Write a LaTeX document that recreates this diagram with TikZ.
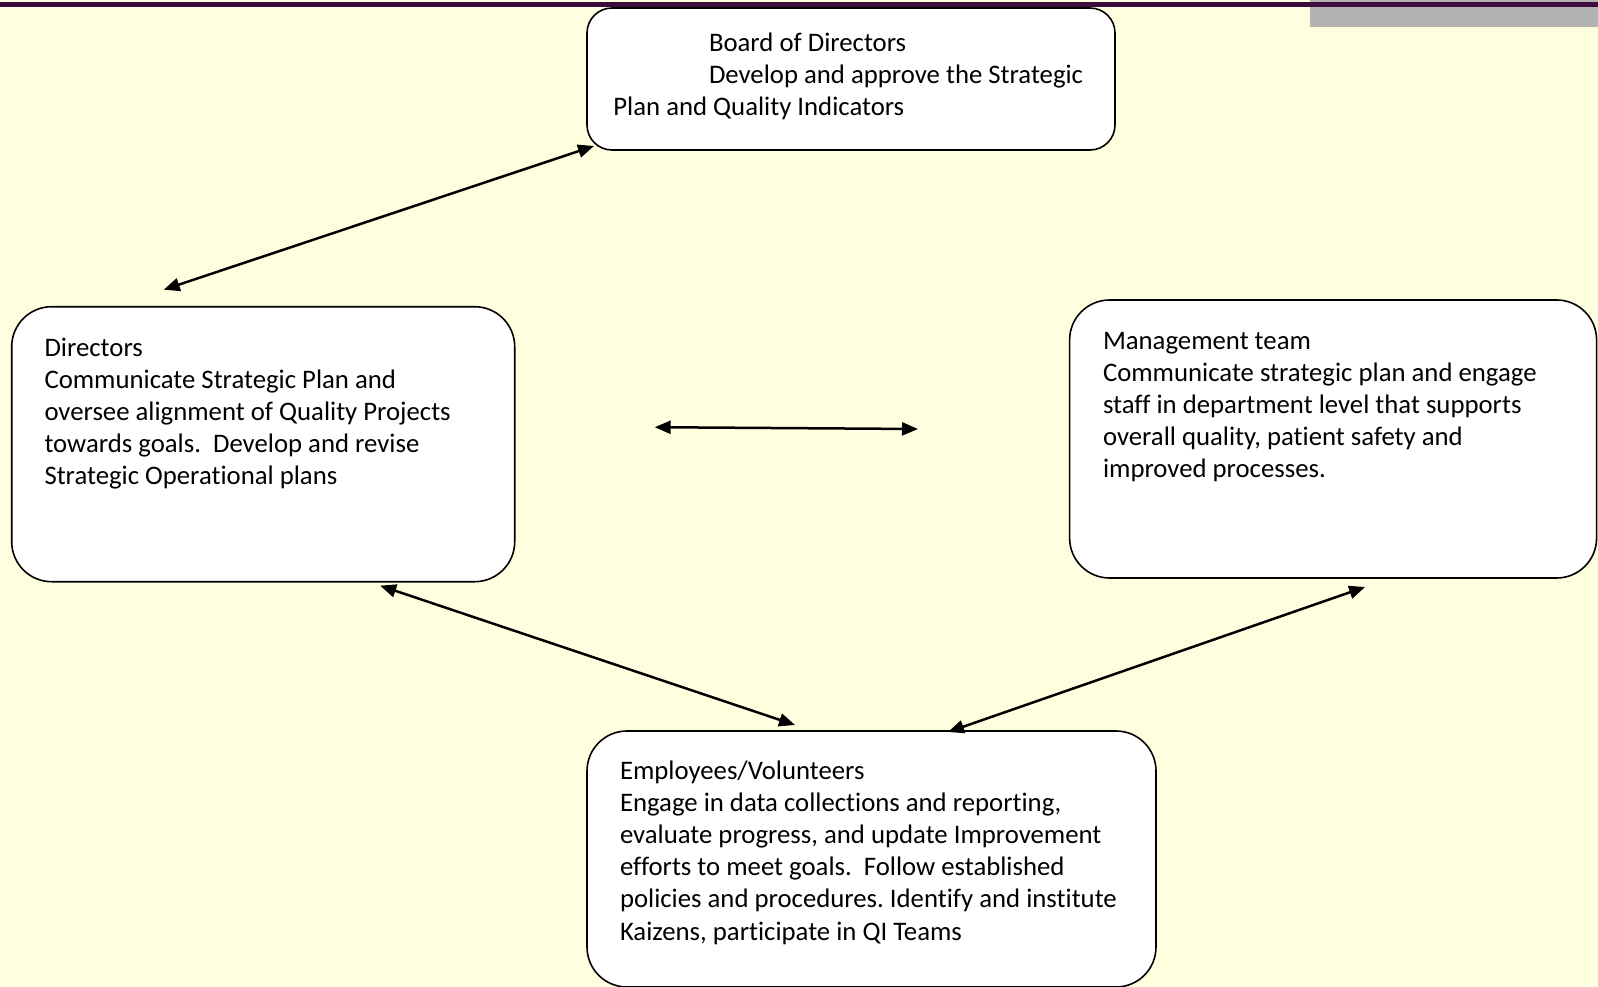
\documentclass[tikz,border=0pt]{standalone}
\usepackage{fontspec}
\setmainfont{Carlito}[Ligatures={NoCommon}]
\usetikzlibrary{arrows.meta,calc}
\definecolor{bgyellow}{HTML}{FFFFE0}
\definecolor{darkplum}{HTML}{3D0C3D}
\definecolor{bargray}{HTML}{B2B2B2}
\frenchspacing
\tikzset{
  box/.style={draw=black, line width=1.6pt, fill=white, inner sep=0pt, outer sep=0pt, anchor=north west},
  txt/.style={inner sep=0pt, outer sep=0pt, anchor=base west, font=\fontsize{26.75}{32.2}\selectfont},
  link/.style={line width=2.5pt, {Triangle[length=16pt,width=13pt]}-{Triangle[length=16pt,width=13pt]}}
}
\newcommand{\boxtext}[1]{\parbox[t]{560pt}{\raggedright #1}}
\begin{document}
\begin{tikzpicture}[x=1pt,y=-1pt]
\useasboundingbox (0,0) rectangle (1598,987);
\fill[bgyellow] (0,0) rectangle (1598,987);
\fill[bargray] (1310,0) rectangle (1598,26.7);
\fill[darkplum] (0,2.3) rectangle (1598,6.7);

\node[box, minimum width=528pt, minimum height=142pt, rounded corners=25pt] (board) at (587,8) {};
\node[box, minimum width=503pt, minimum height=275pt, rounded corners=40pt] (directors) at (11.7,306.7) {};
\node[box, minimum width=527pt, minimum height=278pt, rounded corners=40pt] (management) at (1069.6,300) {};
\node[box, minimum width=569pt, minimum height=256pt, rounded corners=40pt] (employees) at (587,731) {};

\node[txt] (boardtext) at (613.4,51.4) {\boxtext{\hspace*{95.6pt}Board of Directors\\
\hspace*{95.6pt}Develop and approve the Strategic\\
Plan and Quality Indicators}};
\node[txt] (directorstext) at (44.5,356) {\boxtext{Directors\\
Communicate Strategic Plan and\\
oversee alignment of Quality Projects\\
towards goals.\ \ Develop and revise\\
Strategic Operational plans}};
\node[txt] (managementtext) at (1103,349) {\boxtext{Management team\\
Communicate strategic plan and engage\\
staff in department level that supports\\
overall quality, patient safety and\\
improved processes.}};
\node[txt] (employeestext) at (620,779) {\boxtext{Employees/Volunteers\\
Engage in data collections and reporting,\\
evaluate progress, and update Improvement\\
efforts to meet goals.\ \ Follow established\\
policies and procedures. Identify and institute\\
Kaizens, participate in QI Teams}};

\coordinate (a1a) at ($(directors.north west)+(152,-17)$);
\coordinate (a1b) at ($(board.south west)+(7,-4)$);
\coordinate (a2a) at ($(directors.east)+(140,-17)$);
\coordinate (a2b) at ($(management.west)+(-151.6,-10)$);
\coordinate (a3a) at ($(directors.south)+(117,4)$);
\coordinate (a3b) at ($(employees.north west)+(208,-6)$);
\coordinate (a4a) at ($(management.south)+(32,9)$);
\coordinate (a4b) at ($(employees.north west)+(361,1)$);

\draw[link] (a1a) -- (a1b);
\draw[link] (a2a) -- (a2b);
\draw[link] (a3a) -- (a3b);
\draw[link] (a4a) -- (a4b);
\end{tikzpicture}
\end{document}
